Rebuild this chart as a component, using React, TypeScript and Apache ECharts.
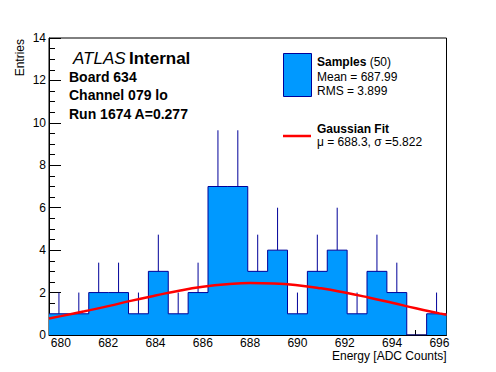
import React, { useEffect, useRef } from "react";
import * as echarts from "echarts";

// Histogram bin edges (Energy [ADC Counts]) and entries per bin
const binEdges = [679.5, 680.34, 681.18, 682.02, 682.86, 683.7, 684.54, 685.38, 686.22, 687.06, 687.9, 688.74, 689.58, 690.42, 691.26, 692.1, 692.94, 693.78, 694.62, 695.46, 696.3];
const counts = [1, 1, 2, 2, 1, 3, 1, 2, 7, 7, 3, 4, 1, 3, 4, 1, 3, 2, 0, 1];
// upper end of the error bar of each bin
const errHigh = [2, 2, 3.41, 3.41, 2, 4.73, 2, 3.41, 9.65, 9.65, 4.73, 6, 2, 4.73, 6, 2, 4.73, 3.41, 0, 2];
// Gaussian fit curve
const fitX = [679.5, 680, 681, 682, 683, 684, 685, 686, 687, 688, 689, 690, 691, 692, 693, 694, 695, 696, 696.3];
const fitY = [0.78, 0.89, 1.12, 1.36, 1.62, 1.86, 2.09, 2.27, 2.39, 2.45, 2.43, 2.35, 2.2, 2.0, 1.77, 1.52, 1.26, 1.02, 0.95];

const yTicks = { min: 0, max: 14, interval: 2 };

const FONT = '"Liberation Sans", Arial, Helvetica, sans-serif';
const FILL = "#0099ff";
const LINE = "#000099";

export default function App() {
  const ref = useRef<HTMLDivElement>(null);
  useEffect(() => {
    if (!ref.current) return;
    const chart = echarts.init(ref.current, undefined, { renderer: "svg" });
    const stepData = binEdges.map((e, i) => [e, counts[Math.min(i, counts.length - 1)]]);
    const errData: number[][] = [];
    counts.forEach((c, i) => {
      if (c > 0) errData.push([(binEdges[i] + binEdges[i + 1]) / 2, c, errHigh[i]]);
    });
    const fitData = fitX.map((x, i) => [x, fitY[i]]);

    chart.setOption({
      animation: false,
      backgroundColor: "#fff",
      textStyle: { fontFamily: FONT },
      grid: {
        left: 49,
        top: 38,
        width: 397.5,
        height: 297,
        show: true,
        borderColor: "#000",
        borderWidth: 1,
        backgroundColor: "transparent",
      },
      xAxis: {
        type: "value",
        min: 679.5,
        max: 696.3,
        splitNumber: 8,
        minInterval: 2,
        maxInterval: 2,
        axisLine: { show: true, onZero: false, lineStyle: { color: "#000", width: 1 } },
        axisTick: { show: true, inside: true, length: 9, lineStyle: { color: "#000" } },
        minorTick: { show: true, splitNumber: 4, length: 5, lineStyle: { color: "#000" } },
        splitLine: { show: false },
        axisLabel: {
          color: "#000",
          fontSize: 12,
          fontFamily: FONT,
          margin: 2,
          formatter: (v: number) => (Number.isInteger(v) ? String(v) : ""),
        },
      },
      yAxis: {
        type: "value",
        min: yTicks.min,
        max: yTicks.max,
        interval: yTicks.interval,
        axisLine: { show: true, lineStyle: { color: "#000", width: 1 } },
        axisTick: { show: true, inside: true, length: 12, lineStyle: { color: "#000" } },
        minorTick: { show: true, splitNumber: 4, length: 6, lineStyle: { color: "#000" } },
        splitLine: { show: false },
        axisLabel: { color: "#000", fontSize: 12, fontFamily: FONT, margin: 3 },
      },
      series: [
        {
          type: "custom",
          z: 1,
          data: errData,
          encode: { x: 0, y: [1, 2] },
          renderItem: (params: any, api: any) => {
            const x = api.value(0);
            const p1 = api.coord([x, api.value(1)]);
            const p2 = api.coord([x, api.value(2)]);
            return {
              type: "line",
              shape: { x1: p1[0], y1: p1[1], x2: p2[0], y2: p2[1] },
              style: { stroke: LINE, lineWidth: 1 },
            };
          },
        },
        {
          type: "line",
          z: 2,
          step: "end",
          data: stepData,
          symbol: "none",
          lineStyle: { color: LINE, width: 1 },
          areaStyle: { color: FILL, opacity: 1 },
        },
        {
          type: "line",
          z: 3,
          smooth: true,
          data: fitData,
          symbol: "none",
          lineStyle: { color: "#ff0000", width: 2.5 },
        },
      ],
      graphic: [
        {
          type: "text",
          x: 73,
          y: 58,
          style: {
            text: "{i|ATLAS} {b|Internal}",
            textVerticalAlign: "middle",
            rich: {
              i: { fontStyle: "italic", fontSize: 17, fontFamily: FONT, fill: "#000", color: "#000" },
              b: { fontWeight: "bold", fontSize: 17, fontFamily: FONT, fill: "#000", color: "#000" },
            },
          },
        },
        { type: "text", x: 69, y: 76.5, style: { text: "Board 634", font: `bold 14px ${FONT}`, fill: "#000", textVerticalAlign: "middle" } },
        { type: "text", x: 69, y: 95.3, style: { text: "Channel 079 lo", font: `bold 14px ${FONT}`, fill: "#000", textVerticalAlign: "middle" } },
        { type: "text", x: 69, y: 114, style: { text: "Run 1674 A=0.277", font: `bold 14px ${FONT}`, fill: "#000", textVerticalAlign: "middle" } },
        {
          type: "rect",
          shape: { x: 283.5, y: 53.5, width: 28, height: 43 },
          style: { fill: FILL, stroke: LINE, lineWidth: 1 },
        },
        {
          type: "text",
          x: 317,
          y: 62,
          style: {
            text: "{b|Samples} {n|(50)}",
            textVerticalAlign: "middle",
            rich: {
              b: { fontWeight: "bold", fontSize: 12, fontFamily: FONT, fill: "#000", color: "#000" },
              n: { fontSize: 12, fontFamily: FONT, fill: "#000", color: "#000" },
            },
          },
        },
        { type: "text", x: 317, y: 76.5, style: { text: "Mean = 687.99", font: `12px ${FONT}`, fill: "#000", textVerticalAlign: "middle" } },
        { type: "text", x: 317, y: 90.5, style: { text: "RMS = 3.899", font: `12px ${FONT}`, fill: "#000", textVerticalAlign: "middle" } },
        {
          type: "line",
          shape: { x1: 283, y1: 136, x2: 311, y2: 136 },
          style: { stroke: "#ff0000", lineWidth: 2.5 },
        },
        { type: "text", x: 317, y: 128.8, style: { text: "Gaussian Fit", font: `bold 12px ${FONT}`, lineHeight: 12, fill: "#000", textVerticalAlign: "middle" } },
        { type: "text", x: 317, y: 141.8, style: { text: "\u03bc = 688.3, \u03c3 =5.822", font: `12px ${FONT}`, lineHeight: 12, fill: "#000", textVerticalAlign: "middle" } },
        {
          type: "text",
          x: 446.7,
          y: 356,
          style: { text: "Energy [ADC Counts]", font: `12px ${FONT}`, fill: "#000", textAlign: "right", textVerticalAlign: "middle" },
        },
        {
          type: "text",
          x: 19.5,
          y: 39,
          rotation: Math.PI / 2,
          style: { text: "Entries", font: `12px ${FONT}`, fill: "#000", textAlign: "right", textVerticalAlign: "middle" },
        },
      ],
    });
    return () => chart.dispose();
  }, []);
  return <div ref={ref} style={{ position: "fixed", left: 0, top: 0, width: 496, height: 372 }} />;
}
